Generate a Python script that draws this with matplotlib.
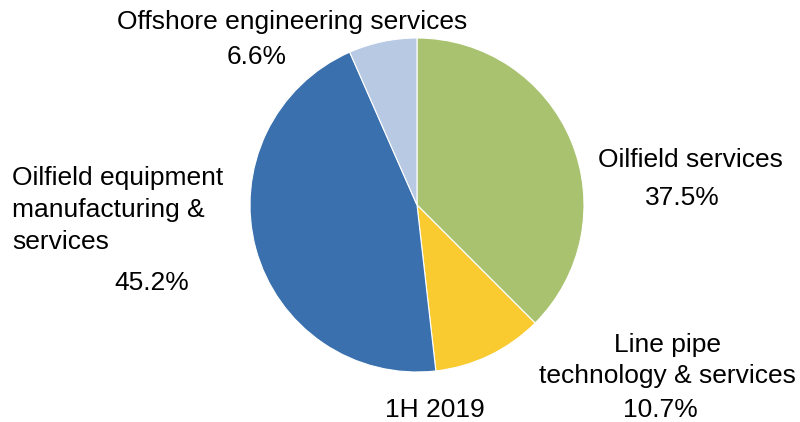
import matplotlib.pyplot as plt

plt.rcParams['font.family'] = ['Liberation Sans', 'DejaVu Sans']

# segment shares for 1H 2019, clockwise from 12 o'clock
segments = ['Oilfield services', 'Line pipe technology & services',
            'Oilfield equipment manufacturing & services',
            'Offshore engineering services']
shares = [37.5, 10.7, 45.2, 6.6]
colors = ['#A9C270', '#F9CB30', '#3A70AE', '#B7C9E3']

fig = plt.figure(figsize=(8, 4.22), dpi=100)
ax = fig.add_axes([0, 0, 1, 1])

ax.pie(shares, colors=colors, startangle=90, counterclock=False,
       center=(417, 422 - 205), radius=167, frame=True,
       wedgeprops=dict(edgecolor='white', linewidth=0.8))
ax.set_xlim(0, 800)
ax.set_ylim(0, 422)
ax.set_aspect('equal')
ax.axis('off')

fs = 19
# labels, in pixel coordinates measured from the top-left
labels = [
    (292, 22, 'Offshore engineering services', 'center'),
    (257, 57, f'{shares[3]}%', 'center'),
    (690, 160, 'Oilfield services', 'center'),
    (682, 198, f'{shares[0]}%', 'center'),
    (667, 345, 'Line pipe', 'center'),
    (667, 376, 'technology & services', 'center'),
    (660, 410, f'{shares[1]}%', 'center'),
    (12, 178, 'Oilfield equipment', 'left'),
    (12, 210, 'manufacturing &', 'left'),
    (12, 242, 'services', 'left'),
    (152, 283, f'{shares[2]}%', 'center'),
    (435, 410, '1H 2019', 'center'),
]
for x, y, s, ha in labels:
    ax.text(x, 422 - y, s, ha=ha, va='center', fontsize=fs, color='black')

fig.savefig('out.png', dpi=100)
